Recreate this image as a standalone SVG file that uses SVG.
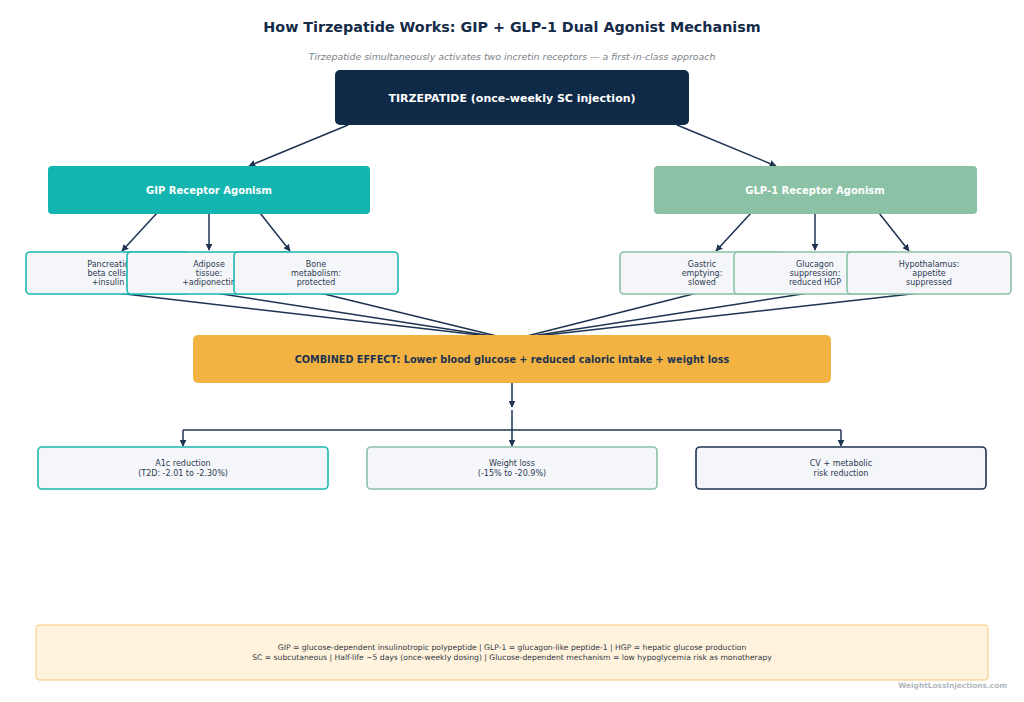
<svg xmlns="http://www.w3.org/2000/svg" width="1024" height="702" viewBox="0 0 1024 702">
<defs>
<marker id="ah" viewBox="0 0 10 10" refX="9" refY="5" markerWidth="7" markerHeight="7" orient="auto" markerUnits="userSpaceOnUse">
<path d="M0,0 L10,5 L0,10 z" fill="#1e3350"/>
</marker>
<style>
text{font-family:"DejaVu Sans","Liberation Sans",sans-serif;}
.t{font-size:14.3px;font-weight:bold;fill:#152b48;text-anchor:middle;}
.sub{font-size:9.4px;font-style:italic;fill:#7a7f88;text-anchor:middle;}
.wb{fill:#fff;font-weight:bold;text-anchor:middle;}
.c{font-size:8px;fill:#2b3a50;text-anchor:middle;}
.leaf{fill:#f4f6fa;stroke-width:1.6;}
.gip{stroke:#1ab8b1;}
.glp{stroke:#8bc1a5;}
.nav{stroke:#1e3350;}
.ln{stroke:#1e3350;stroke-width:1.5;fill:none;}
.ar{stroke:#1e3350;stroke-width:1.5;fill:none;marker-end:url(#ah);}
.ft{font-size:7.65px;fill:#333a44;text-anchor:middle;}
</style>
</defs>
<rect width="1024" height="702" fill="#fff"/>
<text class="t" x="512" y="32">How Tirzepatide Works: GIP + GLP-1 Dual Agonist Mechanism</text>
<text class="sub" x="512" y="60">Tirzepatide simultaneously activates two incretin receptors — a first-in-class approach</text>

<g id="connectors">
<line class="ar" x1="348" y1="125" x2="249" y2="166"/>
<line class="ar" x1="677" y1="125" x2="776" y2="166"/>
<line class="ar" x1="157" y1="213" x2="122" y2="251"/>
<line class="ar" x1="209" y1="213" x2="209" y2="250"/>
<line class="ar" x1="260" y1="213" x2="290" y2="251"/>
<line class="ar" x1="751" y1="213" x2="716" y2="251"/>
<line class="ar" x1="815" y1="213" x2="815" y2="250"/>
<line class="ar" x1="879" y1="213" x2="909" y2="251"/>
<line class="ln" x1="108" y1="292" x2="505" y2="338"/>
<line class="ln" x1="209" y1="292" x2="505" y2="338"/>
<line class="ln" x1="316" y1="292" x2="505" y2="338"/>
<line class="ln" x1="701" y1="292" x2="519" y2="338"/>
<line class="ln" x1="815" y1="292" x2="519" y2="338"/>
<line class="ln" x1="929" y1="292" x2="519" y2="338"/>
<line class="ar" x1="512" y1="383" x2="512" y2="407"/>
<line class="ln" x1="512" y1="410" x2="512" y2="430"/>
<line class="ln" x1="183" y1="430" x2="841" y2="430"/>
<line class="ar" x1="183" y1="430" x2="183" y2="446"/>
<line class="ar" x1="512" y1="430" x2="512" y2="446"/>
<line class="ar" x1="841" y1="430" x2="841" y2="446"/>
</g>

<g id="tirzepatide">
<rect x="335" y="70" width="354" height="55" rx="5" fill="#0f2a47"/>
<text class="wb" x="512" y="102" font-size="11px">TIRZEPATIDE (once-weekly SC injection)</text>
</g>

<g id="gip">
<rect x="48" y="166" width="322" height="48" rx="4" fill="#13b5b0"/>
<text class="wb" x="209" y="194" font-size="10px">GIP Receptor Agonism</text>
</g>
<g id="glp1">
<rect x="654" y="166" width="323" height="48" rx="4" fill="#8bc1a5"/>
<text class="wb" x="815" y="194" font-size="10px">GLP-1 Receptor Agonism</text>
</g>

<g id="pancreatic">
<rect class="leaf gip" x="26" y="252" width="164" height="42" rx="4"/>
<text class="c" x="108" y="267">Pancreatic</text>
<text class="c" x="108" y="276">beta cells:</text>
<text class="c" x="108" y="285">+insulin</text>
</g>
<g id="adipose">
<rect class="leaf gip" x="127" y="252" width="164" height="42" rx="4"/>
<text class="c" x="209" y="267">Adipose</text>
<text class="c" x="209" y="276">tissue:</text>
<text class="c" x="209" y="285">+adiponectin</text>
</g>
<g id="bone">
<rect class="leaf gip" x="234" y="252" width="164" height="42" rx="4"/>
<text class="c" x="316" y="267">Bone</text>
<text class="c" x="316" y="276">metabolism:</text>
<text class="c" x="316" y="285">protected</text>
</g>

<g id="gastric">
<rect class="leaf glp" x="620" y="252" width="164" height="42" rx="4"/>
<text class="c" x="702" y="267">Gastric</text>
<text class="c" x="702" y="276">emptying:</text>
<text class="c" x="702" y="285">slowed</text>
</g>
<g id="glucagon">
<rect class="leaf glp" x="734" y="252" width="164" height="42" rx="4"/>
<text class="c" x="815" y="267">Glucagon</text>
<text class="c" x="815" y="276">suppression:</text>
<text class="c" x="815" y="285">reduced HGP</text>
</g>
<g id="hypothalamus">
<rect class="leaf glp" x="847" y="252" width="164" height="42" rx="4"/>
<text class="c" x="929" y="267">Hypothalamus:</text>
<text class="c" x="929" y="276">appetite</text>
<text class="c" x="929" y="285">suppressed</text>
</g>

<g id="combined">
<rect x="193" y="335" width="638" height="48" rx="5" fill="#f2b342"/>
<text x="512" y="362.5" font-size="9.7px" font-weight="bold" fill="#1e3350" text-anchor="middle">COMBINED EFFECT: Lower blood glucose + reduced caloric intake + weight loss</text>
</g>

<g id="a1c">
<rect class="leaf gip" x="38" y="447" width="290" height="42" rx="4"/>
<text class="c" x="183" y="466">A1c reduction</text>
<text class="c" x="183" y="476">(T2D: -2.01 to -2.30%)</text>
</g>
<g id="weightloss">
<rect class="leaf glp" x="367" y="447" width="290" height="42" rx="4"/>
<text class="c" x="512" y="466">Weight loss</text>
<text class="c" x="512" y="476">(-15% to -20.9%)</text>
</g>
<g id="cv">
<rect class="leaf nav" x="696" y="447" width="290" height="42" rx="4" stroke-width="2"/>
<text class="c" x="841" y="466">CV + metabolic</text>
<text class="c" x="841" y="476">risk reduction</text>
</g>

<g id="footer">
<rect x="36" y="625" width="952" height="55" rx="3" fill="#fff3de" stroke="#f5c875" stroke-width="1"/>
<text class="ft" x="512" y="650">GIP = glucose-dependent insulinotropic polypeptide | GLP-1 = glucagon-like peptide-1 | HGP = hepatic glucose production</text>
<text class="ft" x="512" y="660">SC = subcutaneous | Half-life ~5 days (once-weekly dosing) | Glucose-dependent mechanism = low hypoglycemia risk as monotherapy</text>
</g>
<text x="1007" y="688" font-size="7.4px" font-weight="bold" fill="#b4b8c2" text-anchor="end">WeightLossInjections.com</text>
</svg>
